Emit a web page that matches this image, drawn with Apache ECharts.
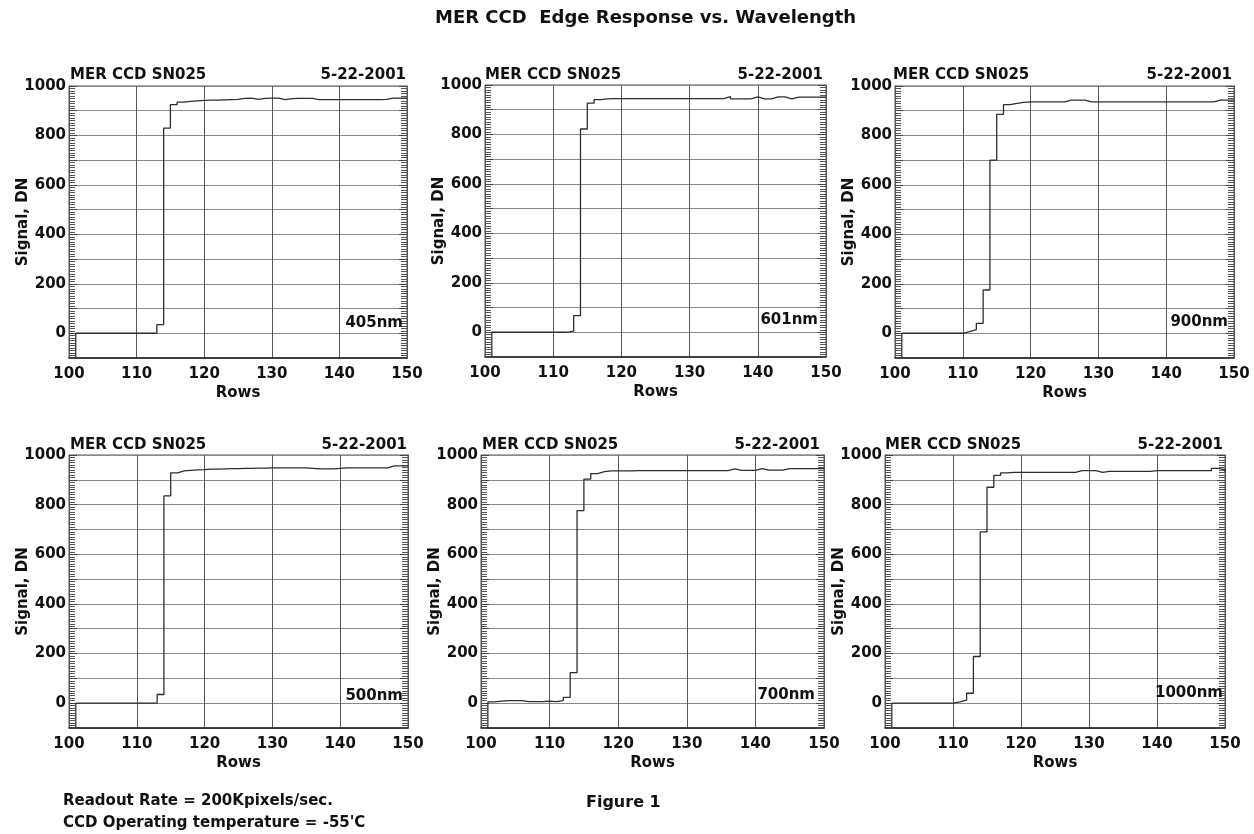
<!DOCTYPE html>
<html>
<head>
<meta charset="utf-8">
<title>MER CCD Edge Response vs. Wavelength</title>
<script src="https://cdn.jsdelivr.net/npm/echarts/dist/echarts.min.js"></script>
<style>
  html, body { margin: 0; padding: 0; background: #fff; }
  #chart { width: 1254px; height: 834px; }
</style>
</head>
<body>
<div id="chart"></div>
<script>
// ---------------- DATA ----------------
const rows = [101,102,103,104,105,106,107,108,109,110,
              111,112,113,114,115,116,117,118,119,120,
              121,122,123,124,125,126,127,128,129,130,
              131,132,133,134,135,136,137,138,139,140,
              141,142,143,144,145,146,147,148,149,150];

const signal405 = [0,0,0,0,0,0,0,0,0,0,
                   0,0,35,830,925,935,938,940,942,943,
                   943,944,945,946,950,951,946,950,951,951,
                   945,949,950,950,950,945,945,945,945,945,
                   945,945,945,945,945,946,951,951,951,951];

const signal601 = [0,0,0,0,0,0,0,0,0,0,
                   0,5,67,822,927,941,944,945,945,945,
                   945,945,945,945,945,945,945,945,945,945,
                   945,945,945,945,953,944,944,944,952,944,
                   944,952,952,944,951,951,951,951,951,951];

const signal900 = [0,0,0,0,0,0,0,0,0,7,
                   15,40,175,700,885,925,930,934,936,936,
                   936,936,936,936,943,943,943,936,936,936,
                   936,936,936,936,936,936,936,936,936,936,
                   936,936,936,936,936,936,943,943,943,943];

const signal500 = [0,0,0,0,0,0,0,0,0,0,
                   0,0,35,835,928,936,938,940,941,943,
                   943,944,945,945,946,946,947,947,948,948,
                   948,948,948,948,946,944,944,944,946,948,
                   948,948,948,948,948,948,956,956,956,956];

const signal700 = [5,8,10,10,10,6,6,6,8,6,
                   10,23,123,776,903,925,933,936,936,936,
                   936,937,937,937,937,937,937,937,937,937,
                   937,937,937,937,937,944,938,938,938,945,
                   939,939,939,945,945,945,945,945,945,945];

const signal1000 = [0,0,0,0,0,0,0,0,0,5,
                    12,40,188,690,870,918,928,930,930,930,
                    930,930,930,930,930,930,930,937,937,937,
                    930,934,934,934,934,934,934,934,937,937,
                    937,937,937,937,937,937,937,946,941,933];

const wavelengths = ['405nm', '601nm', '900nm', '500nm', '700nm', '1000nm'];
const panelSeries = [signal405, signal601, signal900, signal500, signal700, signal1000];

const xTicks = { min: 100, max: 150, interval: 10 };
const yTicks = { min: -100, max: 1000, interval: 100, labelStep: 200 };

const chartTitle = 'MER CCD  Edge Response vs. Wavelength';
const panelHeaderLeft = 'MER CCD SN025';
const panelHeaderRight = '5-22-2001';
const xName = 'Rows';
const yName = 'Signal, DN';
const footLines = ['Readout Rate = 200Kpixels/sec.', "CCD Operating temperature = -55'C"];
const figureLabel = 'Figure 1';

// ---------------- LAYOUT ----------------
const W = 1254;
// [left, top, width, height]
const gridBoxes = [
  [69, 86, 338, 272],
  [485, 85, 341, 272],
  [895, 86, 339, 272],
  [69, 455, 339, 273],
  [481, 455, 343, 273],
  [885, 455, 340, 273]
];
const headerTops = [68, 68, 68, 438, 438, 438];
const headerLeft = [70, 485, 893, 70, 482, 885];
const headerRight = [406, 823, 1232, 407, 820, 1223];
const wlRight = [403, 818, 1228, 403, 815, 1223];
const wlTop = [316, 313, 315, 689, 688, 686];

const FONT = 'DejaVu Sans';
const bold = (size) => ({ fontFamily: FONT, fontWeight: 'bold', fontSize: size, color: '#111' });

const titles = [
  { text: chartTitle, left: 435, top: 9, padding: 0, textStyle: bold(18) }
];
for (let i = 0; i < 6; i++) {
  titles.push({ text: panelHeaderLeft, left: headerLeft[i], top: headerTops[i], padding: 0, textStyle: bold(15) });
  titles.push({ text: panelHeaderRight, right: W - headerRight[i], top: headerTops[i], padding: 0, textStyle: bold(15) });
  titles.push({ text: wavelengths[i], right: W - wlRight[i], top: wlTop[i], padding: 0, textStyle: bold(15) });
}
titles.push({ text: footLines[0], left: 63, top: 794, padding: 0, textStyle: bold(15) });
titles.push({ text: footLines[1], left: 63, top: 816, padding: 0, textStyle: bold(15) });
titles.push({ text: figureLabel, left: 586, top: 795, padding: 0, textStyle: bold(16) });

const grids = [], xAxes = [], yAxes = [], series = [];
for (let i = 0; i < 6; i++) {
  const g = gridBoxes[i];
  grids.push({
    left: g[0], top: g[1], width: g[2], height: g[3],
    show: true, borderColor: '#555', borderWidth: 1,
    containLabel: false, outerBoundsMode: 'none'
  });
  xAxes.push({
    type: 'value', gridIndex: i, position: 'bottom',
    min: xTicks.min, max: xTicks.max, interval: xTicks.interval,
    name: xName, nameLocation: 'middle', nameGap: 28, nameMoveOverlap: false,
    nameTextStyle: bold(15),
    axisLine: { show: true, onZero: false, lineStyle: { color: '#222', width: 1.5 } },
    axisTick: { show: false },
    axisLabel: Object.assign({ margin: 9 }, bold(15)),
    splitLine: { show: true, lineStyle: { color: '#5a5a5a', width: 1 } }
  });
  yAxes.push({
    type: 'value', gridIndex: i, position: 'left',
    min: yTicks.min, max: yTicks.max, interval: yTicks.interval,
    name: yName, nameLocation: 'middle', nameGap: 38, nameMoveOverlap: false,
    nameTextStyle: bold(15),
    axisLine: { show: true, onZero: false, lineStyle: { color: '#555', width: 1 } },
    axisTick: { show: true, inside: true, length: 8, lineStyle: { color: '#444' } },
    minorTick: { show: true, splitNumber: 10, length: 6, lineStyle: { color: '#555' } },
    axisLabel: Object.assign({
      margin: 3,
      formatter: (v) => (v >= 0 && v % yTicks.labelStep === 0) ? String(v) : ''
    }, bold(15)),
    splitLine: { show: true, lineStyle: { color: '#8a8a8a', width: 1 } }
  });
  yAxes.push({
    type: 'value', gridIndex: i, position: 'right',
    min: yTicks.min, max: yTicks.max, interval: yTicks.interval,
    axisLine: { show: true, onZero: false, lineStyle: { color: '#555', width: 1 } },
    axisTick: { show: true, inside: true, length: 8, lineStyle: { color: '#444' } },
    minorTick: { show: true, splitNumber: 10, length: 6, lineStyle: { color: '#555' } },
    axisLabel: { show: false },
    splitLine: { show: false }
  });
  const vals = panelSeries[i];
  const data = [[rows[0], yTicks.min]].concat(rows.map((r, k) => [r, vals[k]]));
  series.push({
    type: 'line', xAxisIndex: i, yAxisIndex: 2 * i,
    step: 'end', symbol: 'none', showSymbol: false, clip: true,
    lineStyle: { color: '#2e2e2e', width: 1.3 },
    data: data
  });
}

const chart = echarts.init(document.getElementById('chart'), null, { renderer: 'canvas' });
chart.setOption({
  animation: false,
  backgroundColor: '#ffffff',
  textStyle: { fontFamily: FONT },
  title: titles,
  grid: grids,
  xAxis: xAxes,
  yAxis: yAxes,
  series: series
});
</script>
</body>
</html>
